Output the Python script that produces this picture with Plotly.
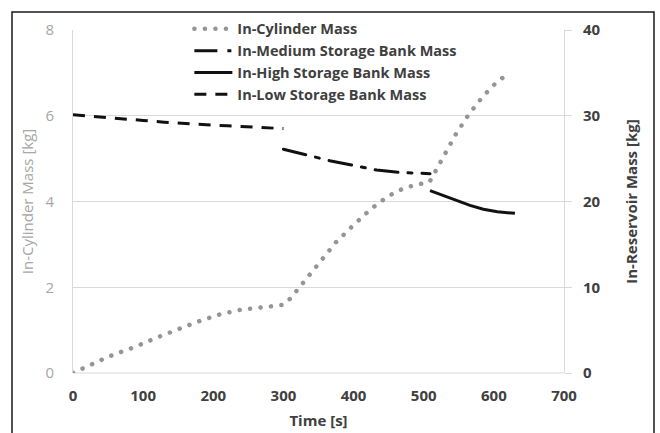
import plotly.graph_objects as go

# In-cylinder mass (left axis, kg)
cyl_time = [0, 15, 30, 45, 60, 90, 120, 150, 180, 210, 240, 270, 300, 310, 320,
            330, 340, 350, 375, 400, 413, 425, 438, 450, 465, 480, 495, 508, 515,
            530, 545, 565, 585, 605, 620]
cyl_mass = [0.0, 0.12, 0.24, 0.34, 0.44, 0.62, 0.83, 1.03, 1.21, 1.37, 1.48, 1.53,
            1.59, 1.74, 1.94, 2.14, 2.34, 2.54, 3.05, 3.45, 3.66, 3.83, 3.99, 4.13,
            4.26, 4.35, 4.41, 4.45, 4.65, 5.10, 5.55, 6.05, 6.46, 6.80, 6.97]

# Storage banks (right axis, kg)
low_time = [0, 40, 70, 100, 130, 160, 190, 220, 250, 280, 300]
low_mass = [30.12, 29.82, 29.64, 29.45, 29.25, 29.06, 28.94, 28.82, 28.68, 28.57, 28.5]

med_time = [300, 333, 366, 397, 433, 464, 490, 509]
med_mass = [26.1, 25.42, 24.76, 24.26, 23.67, 23.4, 23.26, 23.24]

high_time = [509, 530, 547, 566, 585, 605, 630]
high_mass = [21.26, 20.6, 20.06, 19.55, 19.1, 18.8, 18.62]

x_ticks = [0, 100, 200, 300, 400, 500, 600, 700]
left_ticks = [0, 2, 4, 6, 8]
right_ticks = [0, 10, 20, 30, 40]

FONT = "Open Sans"
DARK = "#404040"
GRAY = "#A6A6A6"
GRID = "#D9D9D9"

fig = go.Figure()
fig.add_trace(go.Scatter(
    x=cyl_time, y=cyl_mass, mode="lines", name="In-Cylinder Mass",
    line=dict(color="#959595", width=4.5, dash="0.1px,10.4px"), yaxis="y"))
fig.add_trace(go.Scatter(
    x=med_time, y=med_mass, mode="lines", name="In-Medium Storage Bank Mass",
    line=dict(color="#111111", width=3, dash="23px,10px,4px,10px"), yaxis="y2"))
fig.add_trace(go.Scatter(
    x=high_time, y=high_mass, mode="lines", name="In-High Storage Bank Mass",
    line=dict(color="#111111", width=3), yaxis="y2"))
fig.add_trace(go.Scatter(
    x=low_time, y=low_mass, mode="lines", name="In-Low Storage Bank Mass",
    line=dict(color="#111111", width=3, dash="12px,9px"), yaxis="y2"))

fig.update_layout(
    width=660, height=433,
    margin=dict(l=73, r=96, t=30, b=60),
    paper_bgcolor="white", plot_bgcolor="white",
    font=dict(family=FONT, color=DARK),
    showlegend=True,
    legend=dict(x=0.237, y=1.05, xanchor="left", yanchor="top",
                bgcolor="rgba(0,0,0,0)", itemwidth=38,
                font=dict(family=FONT, size=14.5, color=DARK, weight="bold"),
                tracegroupgap=3),
    xaxis=dict(range=[0, 700], tickvals=x_ticks, showgrid=False, zeroline=False,
               showline=False, ticks="", ticklabelstandoff=12, automargin=False,
               tickfont=dict(size=15, color=DARK, weight="bold"),
               title=dict(text="Time [s]", standoff=11,
                          font=dict(size=15, color=DARK, weight="bold"))),
    yaxis=dict(range=[0, 8], tickvals=left_ticks, showgrid=True, gridcolor=GRID,
               gridwidth=1, zeroline=False, showline=True, linecolor=GRID,
               linewidth=1, ticks="", ticklabelstandoff=15, automargin=False,
               tickfont=dict(size=15, color=GRAY),
               title=dict(text="In-Cylinder Mass [kg]", standoff=8,
                          font=dict(size=15, color=GRAY))),
    yaxis2=dict(range=[0, 40], tickvals=right_ticks, overlaying="y", side="right",
                showgrid=False, zeroline=False, showline=True, linecolor=GRID,
                linewidth=1, ticks="outside", ticklen=7, tickcolor=GRID,
                ticklabelstandoff=8, automargin=False,
                tickfont=dict(size=15, color=DARK, weight="bold"),
                title=dict(text="In-Reservoir Mass [kg]", standoff=26,
                           font=dict(size=15, color=DARK, weight="bold"))),
)

# grid-style baseline along the bottom of the plot area
fig.add_shape(type="line", xref="paper", yref="paper", x0=0, x1=1, y0=0, y1=0,
              line=dict(color=GRID, width=1), layer="below")

# outer chart frame
fig.add_shape(type="rect", xref="paper", yref="paper",
              x0=-0.1242, x1=1.1833, y0=-0.2, y1=1.0525,
              line=dict(color="#1a1a1a", width=1.5), fillcolor="rgba(0,0,0,0)")

# round caps turn the in-cylinder dash pattern into round dots
round_dots = """
var gd = document.getElementById('{plot_id}');
function roundDots() {
  gd.querySelectorAll('.scatterlayer .trace:first-child path.js-line, '
                      + '.legend .traces:first-child path.js-line')
    .forEach(function (p) { p.style.strokeLinecap = 'round'; });
}
roundDots();
gd.on('plotly_afterplot', roundDots);
"""

fig.write_html("out.html", post_script=round_dots)
